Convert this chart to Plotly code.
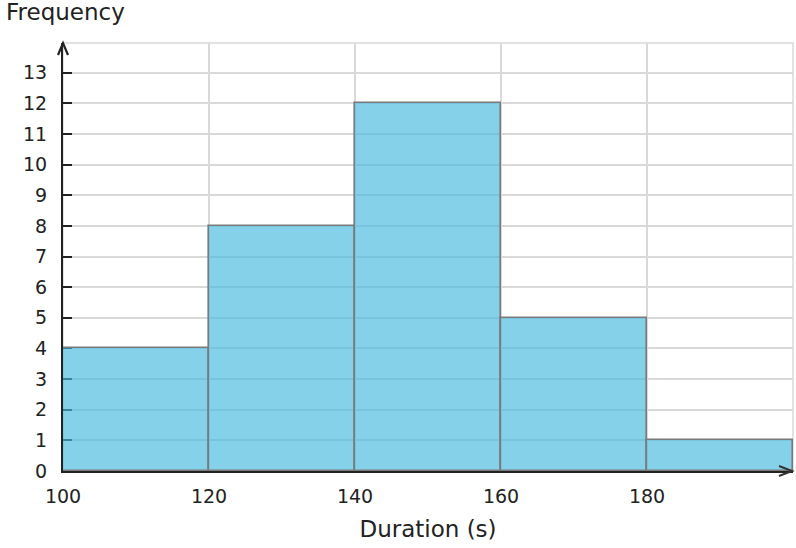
import plotly.graph_objects as go

bin_edges = [100, 120, 140, 160, 180, 200]
frequencies = [4, 8, 12, 5, 1]
x_tick_vals = [100, 120, 140, 160, 180]
y_tick_vals = list(range(0, 14))
x_title = "Duration (s)"
y_title = "Frequency"

centers = [(a + b) / 2 for a, b in zip(bin_edges[:-1], bin_edges[1:])]
widths = [b - a for a, b in zip(bin_edges[:-1], bin_edges[1:])]

FONT = "DejaVu Sans"
TXT = "#222222"
PW, PH = 730, 428  # plot-area size in px

fig = go.Figure()
fig.add_trace(go.Bar(
    x=centers, y=frequencies, width=widths,
    marker=dict(color="rgba(70,185,222,0.66)", line=dict(color="#7a7a7a", width=1.6)),
    hoverinfo="x+y",
))

fig.update_layout(
    width=796, height=548,
    margin=dict(l=63, r=3, t=43, b=77),
    paper_bgcolor="white", plot_bgcolor="white",
    showlegend=False,
    bargap=0,
    font=dict(family=FONT, color=TXT, size=19),
    xaxis=dict(
        range=[bin_edges[0], bin_edges[-1]],
        tickvals=x_tick_vals,
        ticks="", showgrid=True, gridcolor="#d9d9d9", gridwidth=1.5,
        showline=True, linecolor="#222222", linewidth=2,
        zeroline=False,
        tickfont=dict(size=19, family=FONT, color=TXT),
        ticklabelstandoff=7,
        title=dict(text=x_title, font=dict(size=23, family=FONT, color=TXT), standoff=15),
        fixedrange=True,
    ),
    yaxis=dict(
        range=[0, 13.97],
        tickvals=y_tick_vals,
        ticks="inside", ticklen=9, tickwidth=2, tickcolor="#222222",
        showgrid=True, gridcolor="#d9d9d9", gridwidth=1.5,
        showline=True, linecolor="#222222", linewidth=2,
        zeroline=False,
        tickfont=dict(size=19, family=FONT, color=TXT),
        ticklabelstandoff=10,
        layer="below traces",
        fixedrange=True,
    ),
)

# plot-area border (top & right)
fig.add_shape(type="rect", xref="paper", yref="paper", x0=0, y0=0, x1=1, y1=1,
              line=dict(color="#d9d9d9", width=1.5), layer="below")

# open chevron arrowheads at the axis ends
fig.add_shape(type="path", xref="paper", yref="paper", xsizemode="pixel", ysizemode="pixel",
              xanchor=0, yanchor=1,
              path="M -5,-12 L 0,0 L 5,-12",
              line=dict(color="#222222", width=2.2), layer="above")
fig.add_shape(type="path", xref="paper", yref="paper", xsizemode="pixel", ysizemode="pixel",
              xanchor=1, yanchor=0,
              path="M -14,5 L -1,0 L -14,-5",
              line=dict(color="#333333", width=2), layer="above")

# y-axis title at top-left
fig.add_annotation(xref="paper", yref="paper", x=-59 / PW, y=1 + 31 / PH,
                   xanchor="left", yanchor="middle", showarrow=False,
                   text=y_title, font=dict(size=23, family=FONT, color=TXT))

fig.write_html("out.html", config={"displayModeBar": False},
               post_script="document.body.style.margin='0';")
